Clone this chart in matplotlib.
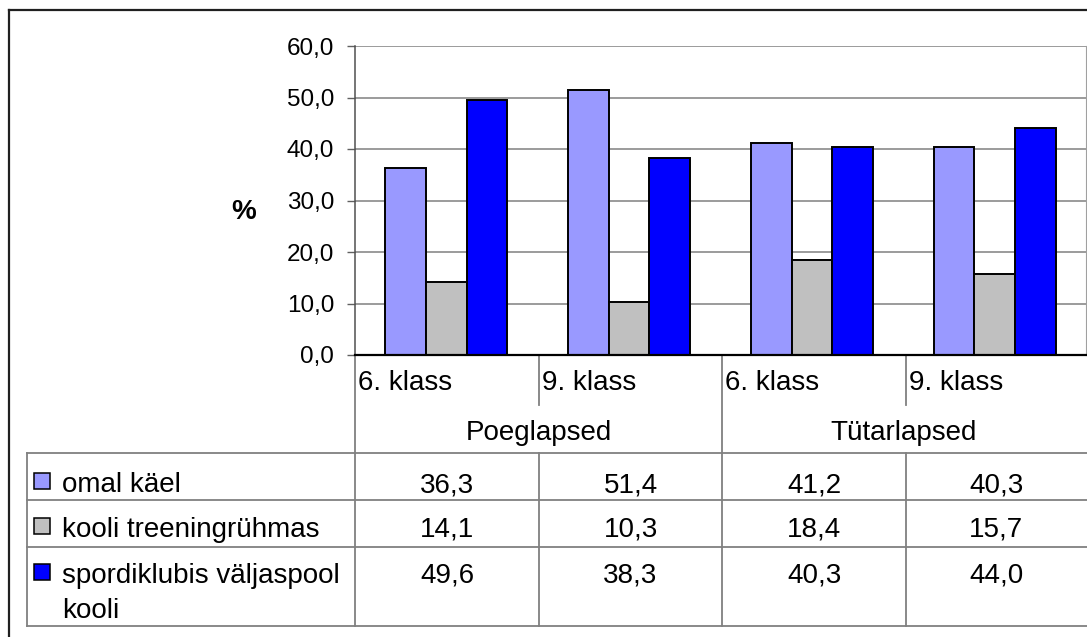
"""Poeglapsed / Tütarlapsed: kus tehakse sporti (tulpdiagramm koos andmetabeliga)."""
import matplotlib
matplotlib.use("Agg")
import matplotlib.pyplot as plt
import numpy as np

# andmed
klassid = ["6. klass", "9. klass", "6. klass", "9. klass"]
grupid = ["Poeglapsed", "Tütarlapsed"]
seeriad = ["omal käel", "kooli treeningrühmas", "spordiklubis väljaspool", "kooli"]
omal_kael = [36.3, 51.4, 41.2, 40.3]
kooli_treening = [14.1, 10.3, 18.4, 15.7]
spordiklubis = [49.6, 38.3, 40.3, 44.0]
varvid = ["#9999FF", "#C0C0C0", "#0000FF"]
y_ticks = [0, 10, 20, 30, 40, 50, 60]

W, H = 1087, 637
plt.rcParams["font.family"] = ["Liberation Sans", "DejaVu Sans"]
FS = 20      # tabeli tekst
FS_T = 17.5  # telje märgendid
fig = plt.figure(figsize=(W / 100, H / 100), dpi=100)

# pikslites ülekate tabeli ja raami jaoks
tab = fig.add_axes([0, 0, 1, 1], zorder=0)
tab.set_xlim(0, W)
tab.set_ylim(H, 0)
tab.axis("off")

# diagrammi ala
x0, x1, ytop, ybot = 355, 1086, 46, 355
ax = fig.add_axes([x0 / W, (H - ybot) / H, (x1 - x0) / W, (ybot - ytop) / H], zorder=1)
ax.patch.set_alpha(0)

x = np.arange(len(klassid))
w = 1 / 4.5
for i, (vals, c) in enumerate(zip([omal_kael, kooli_treening, spordiklubis], varvid)):
    ax.bar(x + (i - 1) * w, vals, w, color=c, edgecolor="black", linewidth=1.4, zorder=3)

ax.set_xlim(-0.5, len(klassid) - 0.5)
ax.set_ylim(0, 60)
ax.set_yticks(y_ticks)
ax.set_yticklabels([f"{v:.1f}".replace(".", ",") for v in y_ticks], fontsize=FS_T)
ax.set_xticks([])
ax.yaxis.grid(True, color="#808080", linewidth=1.1, zorder=0)
ax.tick_params(axis="y", direction="out", length=6, width=1, color="#606060", pad=9)
ax.spines["top"].set_visible(False)
ax.spines["right"].set_color("#A0A0A0")
ax.spines["left"].set_color("#505050")
ax.spines["left"].set_linewidth(1.1)
ax.spines["bottom"].set_color("black")
ax.spines["bottom"].set_linewidth(1.6)
ax.spines["bottom"].set_zorder(4)
tab.text(244, 212, "%", fontsize=FS, fontweight="bold", ha="center", va="center")

# välimine raam (vasak ja ülemine serv)
tab.plot([9, 9], [10, H], color="#202020", lw=1.6)
tab.plot([9, W], [10, 10], color="#202020", lw=1.6)

# tabeli jooned
lc, lw = "#808080", 1.3
cols = [x0, 539, 722, 906, x1]
rows = [453, 500, 547, 626]
for r in rows:
    tab.plot([27, W], [r, r], color=lc, lw=lw)
tab.plot([27, 27], [rows[0], rows[-1]], color=lc, lw=lw)
for c in [x0, 722]:
    tab.plot([c, c], [ybot, rows[-1]], color=lc, lw=lw)
for c in [539, 906]:
    tab.plot([c, c], [ybot, 405], color=lc, lw=lw)
    tab.plot([c, c], [rows[0], rows[-1]], color=lc, lw=lw)

# kategooriate sildid
for i, k in enumerate(klassid):
    tab.text(cols[i] + 3, 390, k, fontsize=FS, ha="left", va="baseline")
for g, (a, b) in zip(grupid, [(x0, 722), (722, x1)]):
    tab.text((a + b) / 2, 440, g, fontsize=FS, ha="center", va="baseline")

# andmeread
base_y = [492, 537, 583]
for j, (vals, c) in enumerate(zip([omal_kael, kooli_treening, spordiklubis], varvid)):
    y = base_y[j]
    tab.add_patch(plt.Rectangle((34, y - 19), 16, 16, facecolor=c, edgecolor="black", lw=1.1))
    tab.text(62, y, seeriad[j], fontsize=FS, ha="left", va="baseline")
    for i, v in enumerate(vals):
        tab.text((cols[i] + cols[i + 1]) / 2, y, f"{v:.1f}".replace(".", ","),
                 fontsize=FS, ha="center", va="baseline")
tab.text(62, 618, seeriad[3], fontsize=FS, ha="left", va="baseline")

fig.savefig("out.png", dpi=100)
